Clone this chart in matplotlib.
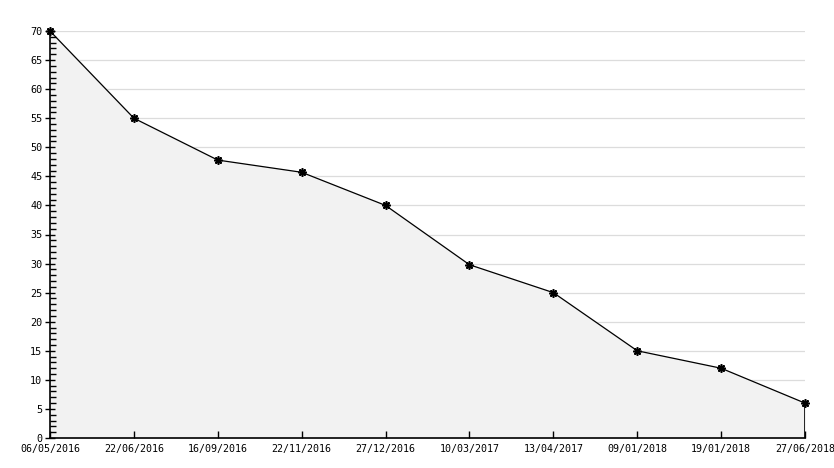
import numpy as np
from matplotlib import pyplot as plt
from matplotlib.ticker import MultipleLocator

dates = ['06/05/2016', '22/06/2016', '16/09/2016', '22/11/2016', '27/12/2016',
         '10/03/2017', '13/04/2017', '09/01/2018', '19/01/2018', '27/06/2018']
values = [70, 55, 47.8, 45.7, 40, 29.8, 25, 15, 12, 6]


def main():
    plt.rcParams['font.family'] = 'DejaVu Sans Mono'
    fig = plt.figure(figsize=(8.34, 4.68), dpi=100)
    ax = fig.add_axes([50 / 834, 1 - 438 / 468, 755 / 834, 407 / 468])

    x = np.arange(len(dates))
    ax.set_xlim(0, len(dates) - 1)
    ax.set_ylim(0, 70)
    ax.set_xticks(x)
    ax.set_xticklabels(dates)
    ax.yaxis.set_major_locator(MultipleLocator(5))
    ax.yaxis.set_minor_locator(MultipleLocator(1))

    # grid behind the filled area, ticks above it
    ax.hlines(ax.get_yticks(), 0, x[-1], color='#dcdcdc', lw=0.9, zorder=0.5)
    ax.fill_between(x, values, 0, color='#f2f2f2', zorder=1)
    ax.plot(x, values, color='black', lw=0.9, zorder=3, clip_on=False,
            marker=(8, 2, 0), markersize=6, markeredgewidth=1.2)
    ax.vlines(x[-1], 0, values[-1], color='black', lw=1.2, zorder=3)

    for s in ('top', 'right'):
        ax.spines[s].set_visible(False)
    for s in ('left', 'bottom'):
        ax.spines[s].set_linewidth(1.2)
        ax.spines[s].set_zorder(4)

    ax.tick_params(axis='x', direction='in', length=5, width=1, labelsize=7.2, pad=4)
    ax.tick_params(axis='y', which='major', direction='inout', length=7, width=1,
                   labelsize=7.3, pad=2)
    ax.tick_params(axis='y', which='minor', direction='in', length=4, width=1.0)

    fig.savefig('out.png', dpi=100)


if __name__ == '__main__':
    main()
